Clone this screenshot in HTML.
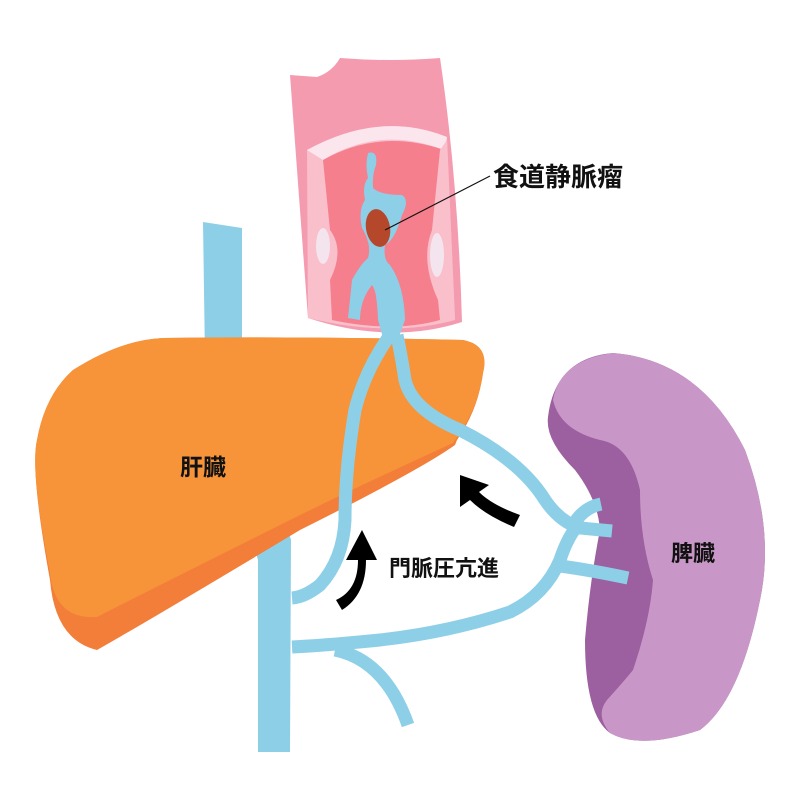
<!DOCTYPE html>
<html><head><meta charset="utf-8"><style>
html,body{margin:0;padding:0;background:#fff}
svg{display:block}
text{font-family:"Liberation Sans","Noto Sans CJK JP",sans-serif;fill:#111;font-weight:bold}
</style></head><body>
<svg width="800" height="800" viewBox="0 0 800 800" xmlns="http://www.w3.org/2000/svg">
<!-- IVC -->
<polygon points="203,222 242,228 242,360 291,540 290,752 258,752 258,560 205,360" fill="#8ECFE8"/>
<!-- Esophagus -->
<path d="M290,75 L317,77 Q332,72 340,58 Q390,62 440,58 Q458,180 462,322 Q390,345 308,318 Z" fill="#F49BB0"/>
<path d="M307,150 Q380,110 447,137 L455,320 Q390,338 308,318 Z" fill="#F9BFCB"/>
<path d="M307,150 Q380,110 447,137 L444,150 Q380,125 323,160 Z" fill="#FBE6EE"/>
<path d="M323,160 Q380,128 444,150 L440,320 Q390,334 323,318 Z" fill="#F57F8D"/>
<path d="M323,160 L330,230 Q345,250 330,280 L332,320 L310,318 L308,155Z" fill="#F9BFCB"/>
<path d="M440,150 L432,230 Q420,260 438,300 L440,320 L455,320 L447,140Z" fill="#F9BFCB"/>
<ellipse cx="323" cy="246" rx="7" ry="18" fill="#F4E4EE"/>
<ellipse cx="437" cy="255" rx="7" ry="22" fill="#F4E4EE"/>
<!-- blue inside esophagus -->
<path d="M368,153 Q378,150 376,165 Q372,175 373,188 Q380,195 402,195 Q410,200 402,215 Q395,240 385,245 Q383,260 390,265 Q404,285 405,320 L396,345 L385,345 L378,320 Q377,290 372,285 Q360,300 360,320 L348,318 Q350,300 352,280 Q360,265 368,258 Q372,245 362,228 Q358,210 365,200 Q362,185 368,178 Q365,165 368,153Z" fill="#8ECFE8"/>
<ellipse cx="378" cy="228" rx="12" ry="19" fill="#B5472A" transform="rotate(-10 378 228)"/>
<line x1="385" y1="230" x2="490" y2="176" stroke="#111" stroke-width="1.2"/>
<!-- Liver -->
<path d="M73,370 Q120,340 163,338 Q300,336 463,340 Q490,345 483,373 Q478,410 457,440 L455,445 Q420,470 300,530 Q150,620 97,650 Q55,640 50,580 Q30,470 37,440 Q45,395 73,370Z" fill="#F27E3A"/>
<path d="M73,370 Q120,340 163,338 Q300,336 463,340 Q490,345 483,373 Q478,410 453,443 Q350,490 280,525 Q150,590 97,617 Q55,620 50,573 Q30,470 37,440 Q45,395 73,370Z" fill="#F7943A"/>
<!-- Spleen -->
<path d="M613,353 Q700,360 745,450 Q775,530 760,600 Q740,700 700,730 Q640,750 610,733 Q585,715 585,640 Q590,580 600,530 Q598,500 575,470 Q545,440 548,417 Q555,358 613,353Z" fill="#9C5FA0"/>
<path d="M613,353 Q700,360 745,450 Q775,530 760,600 Q740,700 700,730 Q640,750 610,733 Q595,715 607,700 Q625,680 633,670 Q650,620 653,580 Q640,540 640,490 Q630,445 600,440 Q560,430 553,400 Q560,360 613,353Z" fill="#C897C8"/>
<!-- veins -->
<g fill="none" stroke="#8ECFE8" stroke-width="13" stroke-linecap="butt">
<path d="M390,335 Q365,370 355,410 Q345,470 345,520 Q343,560 320,585 Q305,597 292,598"/>
<path d="M397,335 Q402,360 405,380 Q412,410 460,430 Q520,460 545,500 Q560,522 580,528 L612,531"/>
<path d="M572,527 Q582,508 601,504"/>
<path d="M582,520 Q568,535 560,560 Q545,595 510,612 Q450,632 380,640 Q330,645 292,647"/>
<path d="M560,566 Q590,570 628,578"/>
<path d="M335,650 Q385,660 408,725"/>
</g>
<!-- arrows -->
<path d="M336,600 Q358,590 358,560 L346,560 L362,530 L377,560 L366,560 Q366,595 342,610Z" fill="#000"/>
<path d="M514,527 Q485,515 470,500 L460,507 L460,475 L489,485 L479,492 Q492,505 520,515Z" fill="#000"/>
<!-- labels -->
<text x="493" y="186" font-size="26">食道静脈瘤</text>
<text x="180" y="475" font-size="23">肝臓</text>
<text x="389" y="576" font-size="22">門脈圧亢進</text>
<text x="671" y="561" font-size="22">脾臓</text>
</svg>
</body></html>
